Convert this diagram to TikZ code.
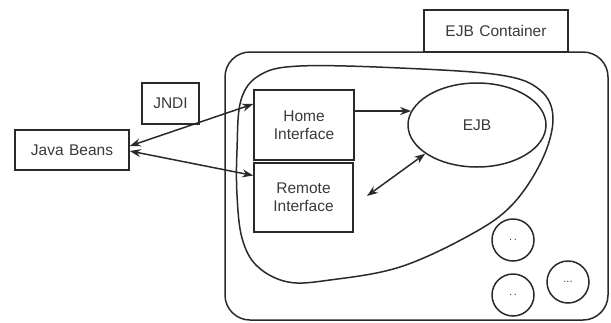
\documentclass[tikz,border=0pt]{standalone}
\usepackage{fontspec}
\setmainfont{Liberation Sans}
\usetikzlibrary{arrows.meta,shapes.geometric}
\definecolor{ink}{HTML}{2A2A2A}
\definecolor{txt}{HTML}{3A3A3A}
\tikzset{
  box/.style={draw=ink, line width=1.5pt, rectangle, inner sep=0pt, text=txt,
    font=\fontsize{15.5}{18}\selectfont, align=center},
  bubble/.style={draw=ink, line width=1.5pt, circle, minimum size=42pt, inner sep=0pt,
    text=txt, font=\fontsize{11}{12}\selectfont},
  tip/.style={Stealth[length=11pt,width=8pt]},
  link/.style={draw=ink, line width=1.5pt, -{Stealth[length=11pt,width=8pt]}},
  twoway/.style={draw=ink, line width=1.5pt, {Stealth[length=11pt,width=8pt]}-{Stealth[length=11pt,width=8pt]}},
}
\begin{document}
\begin{tikzpicture}[x=1pt,y=-1pt]
  \useasboundingbox (0,0) rectangle (611,322);
  \fill[white] (0,0) rectangle (611,322);

  % container frame and its label
  \draw[ink, line width=1.5pt, rounded corners=25pt] (225,52) rectangle (608,320);
  \node[box, minimum width=144pt, minimum height=42pt] (cont) at (496,31) {EJB\hspace{0.35em}Container};

  % boundary around the bean and its interfaces
  \draw[ink, line width=1.5pt] plot[smooth cycle, tension=0.6] coordinates {
    (237,150) (241,100) (260,75) (300,66) (400,68) (500,75) (540,90) (553,118)
    (542,160) (512,205) (470,235) (400,267) (330,280) (288,282) (257,266)
    (242,238) (237,195)};

  % client side
  \node[box, minimum width=114pt, minimum height=40pt] (jb) at (72,150) {Java\hspace{0.35em}Beans};
  \node[box, minimum width=57pt, minimum height=41pt] (jndi) at (170.5,103.5) {JNDI};

  % interfaces
  \node[box, minimum width=100pt, minimum height=70pt] (home) at (304,125) {Home\\Interface};
  \node[box, minimum width=99pt, minimum height=69pt] (remote) at (303.5,197.5) {Remote\\Interface};

  % the bean
  \node[draw=ink, line width=1.5pt, ellipse, minimum width=138pt, minimum height=84pt,
    inner sep=0pt, text=txt, font=\fontsize{15.5}{18}\selectfont] (ejb) at (477,125) {EJB};

  % other beans in the container
  \node[bubble] (b1) at (513,240) {.\,.};
  \node[bubble] (b2) at (513,295) {.\,.};
  \node[bubble] (b3) at (568,282) {...};

  % connectors
  \coordinate (free) at (367,196);
  \draw[twoway] ([yshift=4pt]jb.east) -- ([yshift=21pt]home.west);
  \draw[twoway] ([yshift=-1pt]jb.east) -- ([yshift=22pt]remote.west);
  \draw[link] (ejb.168 -| home.east) -- (ejb.168);
  \draw[twoway] (free) -- (ejb.-151);
\end{tikzpicture}
\end{document}
